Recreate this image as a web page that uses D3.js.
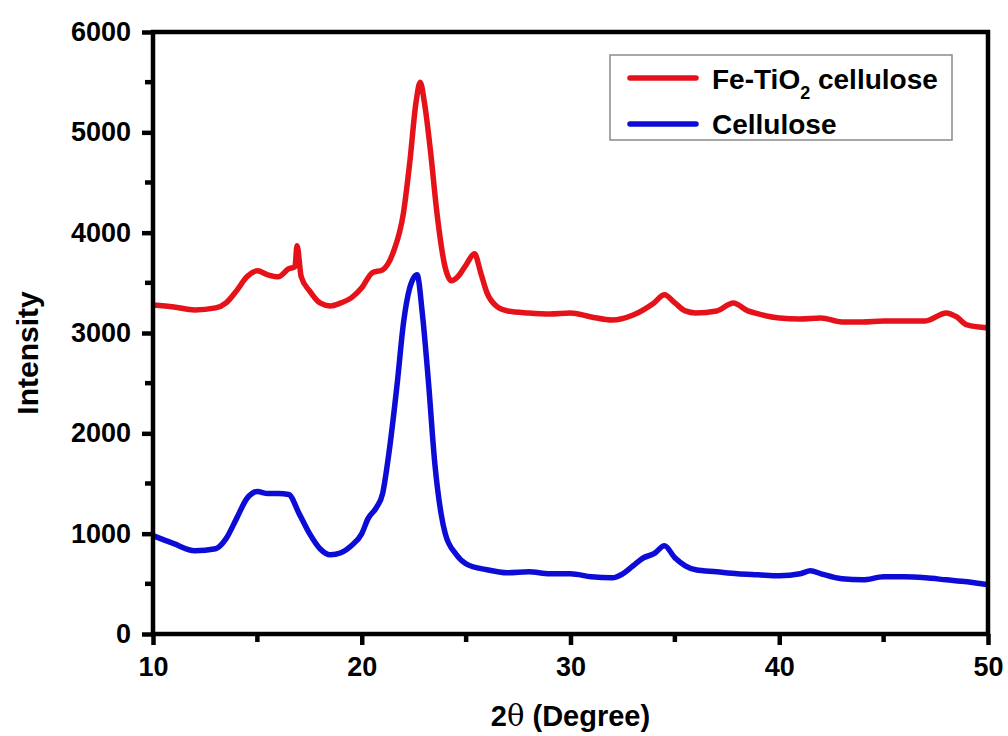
<!DOCTYPE html>
<html>
<head>
<meta charset="utf-8">
<script src="https://cdn.jsdelivr.net/npm/d3@7"></script>
<style>
  html, body { margin: 0; padding: 0; background: #fff; }
  svg { display: block; font-family: "Liberation Sans", Arial, sans-serif; }
</style>
</head>
<body>
<svg id="chart" width="1008" height="736"></svg>
<script>
// XRD patterns: 2θ (degree) vs intensity
const feTiO2Angle = [10, 11, 12, 13, 13.5, 14, 14.5, 15, 15.5, 16, 16.5, 16.8, 16.9, 17.1, 17.5, 18, 18.5, 19, 19.5, 20, 20.5, 21, 21.5, 22, 22.3, 22.6, 22.8, 23, 23.3, 23.6, 24, 24.3, 24.6, 25, 25.4, 25.7, 26, 26.5, 27, 28, 29, 30, 31, 32, 33, 34, 34.5, 35, 35.5, 36, 37, 37.8, 38.5, 39, 40, 41, 42, 43, 44, 45, 46, 47, 48, 48.5, 49, 50];
const feTiO2Intensity = [3280, 3260, 3230, 3250, 3300, 3420, 3560, 3620, 3580, 3560, 3640, 3660, 3870, 3560, 3420, 3300, 3270, 3300, 3350, 3450, 3600, 3630, 3800, 4200, 4700, 5300, 5500, 5300, 4800, 4200, 3650, 3520, 3560, 3680, 3790, 3600, 3400, 3260, 3220, 3200, 3190, 3200, 3160, 3130, 3180, 3300, 3380, 3300, 3220, 3200, 3220, 3300, 3220, 3190, 3150, 3140, 3150, 3110, 3110, 3120, 3120, 3120, 3200, 3160, 3080, 3050];

const celluloseAngle = [10, 11, 12, 13, 13.5, 14, 14.5, 15, 15.5, 16, 16.5, 17, 17.5, 18, 18.5, 19, 19.5, 20, 20.3, 20.7, 21, 21.3, 21.7, 22, 22.3, 22.65, 22.9, 23.2, 23.5, 23.8, 24, 24.5, 25, 26, 27, 28, 29, 30, 31, 32, 32.5, 33, 33.5, 34, 34.5, 35, 35.5, 36, 37, 38, 39, 40, 41, 41.5, 42, 43, 44, 45, 46, 47, 48, 49, 50];
const celluloseIntensity = [980, 900, 830, 850, 950, 1150, 1350, 1420, 1400, 1400, 1390, 1200, 1000, 850, 790, 810, 880, 1000, 1150, 1260, 1400, 1800, 2500, 3100, 3450, 3580, 3200, 2500, 1700, 1200, 1000, 800, 700, 640, 610, 620, 600, 600, 570, 560, 600, 680, 760, 800, 880, 760, 680, 640, 620, 600, 590, 580, 600, 630, 600, 550, 540, 570, 570, 560, 540, 520, 490];

const xTicks = [10, 20, 30, 40, 50];
const yTicks = [0, 1000, 2000, 3000, 4000, 5000, 6000];

const seriesColors = ["#e5121a", "#0c0cd6"];

const margin = { left: 153, right: 20, top: 32, bottom: 102 };
const width = 1008, height = 736;
const svg = d3.select("#chart");

const x = d3.scaleLinear().domain([10, 50]).range([margin.left, width - margin.right]);
const y = d3.scaleLinear().domain([0, 6000]).range([height - margin.bottom, margin.top]);

const line = d3.line().x(d => x(d[0])).y(d => y(d[1])).curve(d3.curveMonotoneX);

const series = [
  d3.zip(feTiO2Angle, feTiO2Intensity),
  d3.zip(celluloseAngle, celluloseIntensity)
];

const plot = svg.append("g");
series.forEach((s, i) => {
  plot.append("path")
    .datum(s)
    .attr("fill", "none")
    .attr("stroke", seriesColors[i])
    .attr("stroke-width", 5.5)
    .attr("stroke-linejoin", "round")
    .attr("d", line);
});

// Frame
svg.append("rect")
  .attr("x", x(10)).attr("y", y(6000))
  .attr("width", x(50) - x(10)).attr("height", y(0) - y(6000))
  .attr("fill", "none").attr("stroke", "#000").attr("stroke-width", 4.5);

// Axes
const xAxis = d3.axisBottom(x).tickValues(xTicks).tickFormat(d3.format("d")).tickSize(11).tickPadding(12);
const yAxis = d3.axisLeft(y).tickValues(yTicks).tickFormat(d3.format("d")).tickSize(11).tickPadding(11);

const gx = svg.append("g").attr("transform", `translate(0,${y(0)})`).call(xAxis);
const gy = svg.append("g").attr("transform", `translate(${x(10)},0)`).call(yAxis);

[gx, gy].forEach(g => {
  g.select(".domain").remove();
  g.selectAll(".tick line").attr("stroke", "#000").attr("stroke-width", 4.5);
  g.selectAll(".tick text")
    .attr("fill", "#000")
    .style("font-size", "27px")
    .style("font-weight", "bold");
});

// Minor ticks
const xMinor = d3.range(15, 50, 10);
const yMinor = d3.range(500, 6000, 1000);
svg.append("g").selectAll("line").data(xMinor).join("line")
  .attr("x1", d => x(d)).attr("x2", d => x(d))
  .attr("y1", y(0)).attr("y2", y(0) + 8)
  .attr("stroke", "#000").attr("stroke-width", 4.5);
svg.append("g").selectAll("line").data(yMinor).join("line")
  .attr("x1", x(10)).attr("x2", x(10) - 8)
  .attr("y1", d => y(d)).attr("y2", d => y(d))
  .attr("stroke", "#000").attr("stroke-width", 4.5);

// Axis titles
const xt = svg.append("text")
  .attr("x", (x(10) + x(50)) / 2).attr("y", 726)
  .attr("text-anchor", "middle")
  .style("font-size", "29px").style("font-weight", "bold");
xt.append("tspan").text("2");
xt.append("tspan").text("θ").style("font-weight", "normal").style("font-family", "'DejaVu Serif', serif");
xt.append("tspan").text(" (Degree)");

svg.append("text")
  .attr("transform", `translate(38,353) rotate(-90)`)
  .attr("text-anchor", "middle")
  .style("font-size", "30px").style("font-weight", "bold")
  .text("Intensity");

// Legend
const legend = svg.append("g");
legend.append("rect")
  .attr("x", 610).attr("y", 55).attr("width", 342).attr("height", 85)
  .attr("fill", "#fff").attr("stroke", "#8a8a8a").attr("stroke-width", 1.5);

const legendRows = [78, 124];
legendRows.forEach((ly, i) => {
  legend.append("line")
    .attr("x1", 630).attr("x2", 696).attr("y1", ly).attr("y2", ly)
    .attr("stroke", seriesColors[i]).attr("stroke-width", 5.5).attr("stroke-linecap", "round");
});

const t1 = legend.append("text")
  .attr("x", 712).attr("y", 89)
  .style("font-size", "28px").style("font-weight", "bold");
t1.append("tspan").text("Fe-TiO");
t1.append("tspan").text("2").attr("dy", 10).style("font-size", "18px");
t1.append("tspan").text(" cellulose").attr("dy", -10);

legend.append("text")
  .attr("x", 712).attr("y", 134)
  .style("font-size", "28px").style("font-weight", "bold")
  .text("Cellulose");
</script>
</body>
</html>
